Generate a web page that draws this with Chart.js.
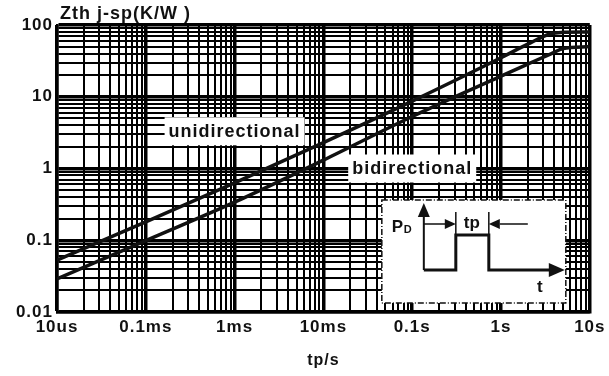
<!DOCTYPE html>
<html>
<head>
<meta charset="utf-8">
<script src="https://cdn.jsdelivr.net/npm/chart.js@4.4.1/dist/chart.umd.min.js"></script>
<style>
  html, body { margin: 0; padding: 0; background: #fff; }
  #wrap { width: 609px; height: 376px; }
</style>
</head>
<body>
<div id="wrap"><canvas id="mycanvas" width="609" height="376"></canvas></div>
<script>
// pulse width tp (s) and thermal impedance Zth j-sp (K/W)
var tp = [1e-5, 1e-4, 1e-3, 1e-2, 1e-1, 1, 2, 3.7, 5, 10];
var zthUni = [0.053, 0.18, 0.63, 2.3, 8.7, 35, 54, 76, 79, 80];
var zthBi = [0.029, 0.099, 0.34, 1.31, 5.3, 19.4, 28.5, 40, 47, 50];

var xTickValues = [1e-5, 1e-4, 1e-3, 1e-2, 1e-1, 1, 10];
var xTickLabels = ['10us', '0.1ms', '1ms', '10ms', '0.1s', '1s', '10s'];
var yTickValues = [0.01, 0.1, 1, 10, 100];
var yTickLabels = ['0.01', '0.1', '1', '10', '100'];

var ink = '#111';

// every 1..9 step of each decade, so the grid gets all the minor lines
function decadeTicks(min, max) {
    var ticks = [];
    var e0 = Math.round(Math.log10(min));
    var e1 = Math.round(Math.log10(max));
    for (var e = e0; e < e1; e++) {
        for (var m = 1; m < 10; m++) {
            ticks.push({value: m * Math.pow(10, e), major: m === 1});
        }
    }
    ticks.push({value: max, major: true});
    return ticks;
}

function labelFor(value, values, labels) {
    for (var i = 0; i < values.length; i++) {
        if (Math.abs(Math.log10(value) - Math.log10(values[i])) < 1e-6) return labels[i];
    }
    return '';
}

function boxedText(ctx, text, cx, cy) {
    ctx.font = 'bold 18px "Liberation Sans", Arial, sans-serif';
    ctx.letterSpacing = '1px';
    var w = ctx.measureText(text).width;
    ctx.fillStyle = '#fff';
    ctx.fillRect(cx - w / 2 - 4, cy - 14, w + 8, 28);
    ctx.fillStyle = ink;
    ctx.textAlign = 'center';
    ctx.textBaseline = 'middle';
    ctx.fillText(text, cx, cy + 1);
}

function arrowHead(ctx, x, y, dir, len, half) {
    ctx.beginPath();
    if (dir === 'up') {
        ctx.moveTo(x, y); ctx.lineTo(x - half, y + len); ctx.lineTo(x + half, y + len);
    } else if (dir === 'right') {
        ctx.moveTo(x, y); ctx.lineTo(x - len, y - half); ctx.lineTo(x - len, y + half);
    } else {
        ctx.moveTo(x, y); ctx.lineTo(x + len, y - half); ctx.lineTo(x + len, y + half);
    }
    ctx.closePath();
    ctx.fill();
}

var extras = {
    id: 'extras',
    beforeDraw: function(chart) {
        chart.ctx.letterSpacing = '1px';
    },
    afterDatasetsDraw: function(chart) {
        var ctx = chart.ctx;
        var xs = chart.scales.x, ys = chart.scales.y;
        var ca = chart.chartArea;
        ctx.save();

        boxedText(ctx, 'unidirectional', xs.getPixelForValue(1e-3), ys.getPixelForValue(3.3));
        boxedText(ctx, 'bidirectional', xs.getPixelForValue(0.1), ys.getPixelForValue(1.0));

        // pulse sketch in the lower right corner
        var bx = ca.right - 208, by = ca.bottom - 112;
        ctx.fillStyle = '#fff';
        ctx.fillRect(bx, by, 184, 103);
        ctx.strokeStyle = ink;
        ctx.lineWidth = 1.5;
        ctx.setLineDash([6, 2, 1, 2]);
        ctx.strokeRect(bx, by, 184, 103);
        ctx.setLineDash([]);

        ctx.fillStyle = ink;
        ctx.lineWidth = 2;
        ctx.beginPath();
        ctx.moveTo(bx + 42, by + 70);
        ctx.lineTo(bx + 42, by + 14);
        ctx.stroke();
        arrowHead(ctx, bx + 42, by + 3, 'up', 14, 6);

        ctx.lineWidth = 3;
        ctx.beginPath();
        ctx.moveTo(bx + 42, by + 70);
        ctx.lineTo(bx + 74, by + 70);
        ctx.lineTo(bx + 74, by + 35);
        ctx.lineTo(bx + 107, by + 35);
        ctx.lineTo(bx + 107, by + 70);
        ctx.lineTo(bx + 170, by + 70);
        ctx.stroke();
        arrowHead(ctx, bx + 183, by + 70, 'right', 16, 7);

        ctx.lineWidth = 1.5;
        ctx.beginPath();
        ctx.moveTo(bx + 74, by + 12); ctx.lineTo(bx + 74, by + 35);
        ctx.moveTo(bx + 107, by + 12); ctx.lineTo(bx + 107, by + 35);
        ctx.moveTo(bx + 42, by + 24); ctx.lineTo(bx + 64, by + 24);
        ctx.moveTo(bx + 118, by + 24); ctx.lineTo(bx + 146, by + 24);
        ctx.stroke();
        arrowHead(ctx, bx + 74, by + 24, 'right', 11, 5);
        arrowHead(ctx, bx + 107, by + 24, 'left', 11, 5);

        ctx.letterSpacing = '0px';
        ctx.textAlign = 'left';
        ctx.textBaseline = 'alphabetic';
        ctx.font = 'bold 17px "Liberation Sans", Arial, sans-serif';
        ctx.fillText('P', bx + 10, by + 32);
        ctx.font = 'bold 11px "Liberation Sans", Arial, sans-serif';
        ctx.fillText('D', bx + 22, by + 33);
        ctx.font = 'bold 17px "Liberation Sans", Arial, sans-serif';
        ctx.textAlign = 'center';
        ctx.fillText('tp', bx + 90, by + 28);
        ctx.fillText('t', bx + 158, by + 92);

        // y axis caption above the plot
        ctx.letterSpacing = '1px';
        ctx.textAlign = 'left';
        ctx.font = 'bold 18px "Liberation Sans", Arial, sans-serif';
        ctx.fillText('Zth j-sp(K/W )', ca.left + 3, ca.top - 6);
        ctx.restore();
    }
};

var chartdata = {
    labels: tp,
    datasets: [
        {
            label: 'unidirectional',
            data: zthUni,
            borderColor: ink,
            borderWidth: 3.5,
            pointRadius: 0,
            cubicInterpolationMode: 'monotone',
            fill: false
        },
        {
            label: 'bidirectional',
            data: zthBi,
            borderColor: ink,
            borderWidth: 3.5,
            pointRadius: 0,
            cubicInterpolationMode: 'monotone',
            fill: false
        }
    ]
};

var tickFont = {family: '"Liberation Sans", Arial, sans-serif', size: 17, weight: 'bold'};

var ctx = document.getElementById('mycanvas');
var zthChart = new Chart(ctx, {
    type: 'line',
    data: chartdata,
    plugins: [extras],
    options: {
        responsive: false,
        animation: false,
        layout: {padding: {left: 0, right: 18, top: 25, bottom: 0}},
        plugins: {legend: {display: false}, tooltip: {enabled: false}},
        scales: {
            x: {
                type: 'logarithmic',
                min: 1e-5,
                max: 10,
                afterBuildTicks: function(scale) { scale.ticks = decadeTicks(1e-5, 10); },
                afterFit: function(scale) { scale.height = 64; },
                ticks: {
                    autoSkip: false,
                    maxRotation: 0,
                    padding: 5,
                    color: ink,
                    font: tickFont,
                    callback: function(value) { return labelFor(value, xTickValues, xTickLabels); }
                },
                grid: {
                    color: '#000',
                    drawTicks: false,
                    lineWidth: function(c) { return c.tick && c.tick.major ? 3.5 : 2; }
                },
                border: {color: '#000', width: 2.5},
                title: {
                    display: true,
                    text: 'tp/s',
                    color: ink,
                    font: {family: '"Liberation Sans", Arial, sans-serif', size: 16, weight: 'bold'},
                    padding: {top: 0, bottom: 6}
                }
            },
            y: {
                type: 'logarithmic',
                min: 0.01,
                max: 100,
                afterBuildTicks: function(scale) { scale.ticks = decadeTicks(0.01, 100); },
                afterFit: function(scale) { scale.width = 57; },
                ticks: {
                    autoSkip: false,
                    padding: 4,
                    color: ink,
                    font: tickFont,
                    callback: function(value) { return labelFor(value, yTickValues, yTickLabels); }
                },
                grid: {
                    color: '#000',
                    drawTicks: false,
                    lineWidth: function(c) { return c.tick && c.tick.major ? 3.5 : 2; }
                },
                border: {color: '#000', width: 2.5}
            }
        }
    }
});
</script>
</body>
</html>
